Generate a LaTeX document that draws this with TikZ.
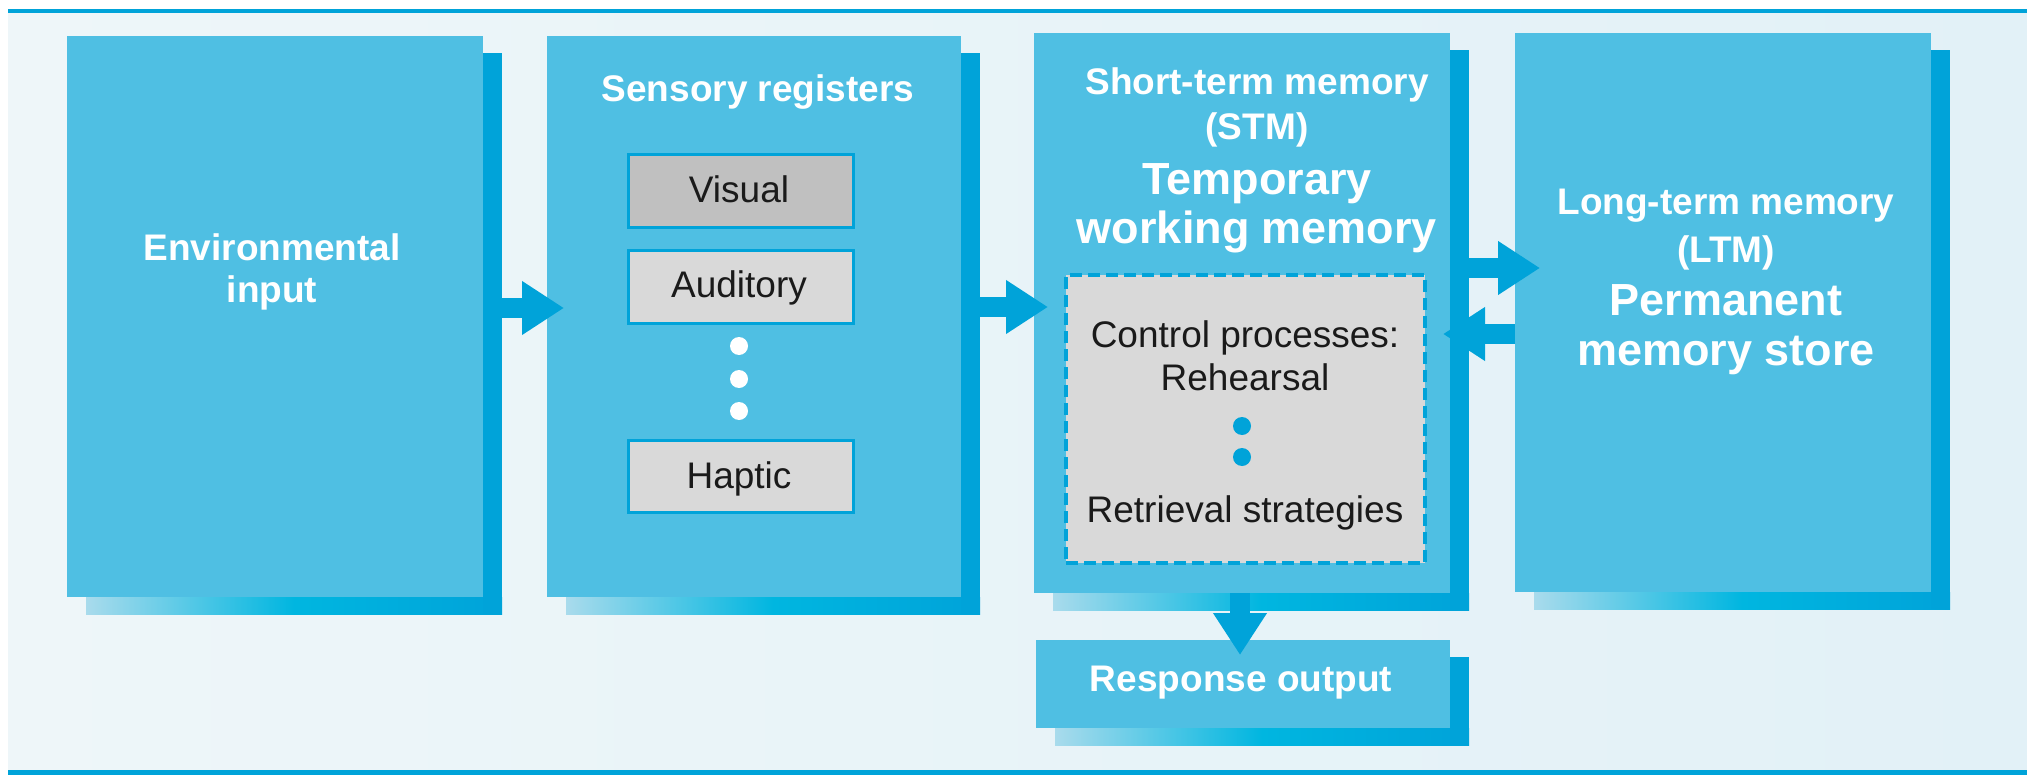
\documentclass[tikz,border=0pt]{standalone}
\usepackage{fontspec}
\setmainfont{Liberation Sans}
\usetikzlibrary{arrows.meta,fit}
\definecolor{boxfill}{HTML}{4FBFE3}
\definecolor{shdark}{HTML}{00A3D9}
\definecolor{shmid}{HTML}{00B6E0}
\definecolor{shlight}{HTML}{A9DBEC}
\definecolor{bglight}{HTML}{EEF6F9}
\definecolor{bgdark}{HTML}{E2F1F7}
\definecolor{graydark}{HTML}{C0C0C0}
\definecolor{graylight}{HTML}{D9D9D9}
\definecolor{txtdark}{HTML}{1A1A1A}
\newcommand\shbox[5]{%
  \shade[left color=shlight, right color=shdark, middle color=shmid] (#2+19,#5) rectangle (#4+19,#5+17);
  \fill[shdark] (#4,#3+17) rectangle (#4+19,#5+17);
  \node[bluebox, fit={(#2,#3) (#4,#5)}] (#1) {};
}
\begin{document}
\begin{tikzpicture}[
 x=0.5pt, y=-0.5pt,
 bluebox/.style={fill=boxfill, inner sep=0pt, outer sep=0pt},
 regbox/.style={draw=shdark, line width=1.5pt, inner sep=0pt, outer sep=0pt},
 dashbox/.style={draw=shdark, fill=graylight, line width=2pt, dash pattern=on 6pt off 3pt, inner sep=0pt, outer sep=0pt},
 ttl/.style={text=white, font=\fontsize{18.5}{22}\selectfont\bfseries, anchor=base, inner sep=0pt},
 bigttl/.style={text=white, font=\fontsize{22.5}{27}\selectfont\bfseries, anchor=base, inner sep=0pt},
 regtxt/.style={text=txtdark, font=\fontsize{18.5}{22}\selectfont, anchor=base, inner sep=0pt},
 bigarrow/.style={draw=shdark, line width=10pt, -{Triangle[width=25.5pt,length=21pt]}},
 bdot/.style={circle, inner sep=0pt, minimum size=9pt},
]
\useasboundingbox (0,0) rectangle (2027,775);
% background and rules
\shade[left color=bglight, right color=bgdark] (8,14) rectangle (2027,770);
\fill[shdark] (8,9) rectangle (2027,13);
\fill[shdark] (8,770) rectangle (2027,775);
% boxes
\shbox{env}{67}{36}{483}{597}
\shbox{sens}{547}{36}{961}{597}
\shbox{stm}{1034}{33}{1450}{593}
\shbox{ltm}{1515}{33}{1931}{592}
\shbox{resp}{1036}{640}{1450}{728}
% sensory sub-boxes
\node[regbox, fill=graydark, fit={(628,155) (853,228)}] (vis) {};
\node[regbox, fill=graylight, fit={(628,250) (853,323)}] (aud) {};
\node[regbox, fill=graylight, fit={(628,440) (853,512)}] (hap) {};
\node[regtxt] (vist) at (739,203) {Visual};
\node[regtxt] (audt) at (739,297) {Auditory};
\node[regtxt] (hapt) at (739,488) {Haptic};
\node[bdot, fill=white] (sd1) at (739,346) {};
\node[bdot, fill=white] (sd2) at (739,379) {};
\node[bdot, fill=white] (sd3) at (739,411) {};
% control processes
\node[dashbox, fit={(1066,275) (1425,563)}] (ctrl) {};
\node[regtxt] (ct1) at (1245,347) {Control processes:};
\node[regtxt] (ct2) at (1245,390) {Rehearsal};
\node[regtxt] (ct3) at (1245,522) {Retrieval strategies};
\node[bdot, fill=shdark] (cd1) at (1242,426) {};
\node[bdot, fill=shdark] (cd2) at (1242,457) {};
% titles
\node[ttl] (envt1) at (272,260) {Environmental};
\node[ttl] (envt2) at (272,302) {input};
\node[ttl] (senst) at (758,102) {Sensory registers};
\node[ttl] (stmt1) at (1257,95) {Short-term memory};
\node[ttl] (stmt2) at (1257,140) {(STM)};
\node[bigttl] (stmt3) at (1257,195) {Temporary};
\node[bigttl] (stmt4) at (1257,243) {working memory};
\node[ttl] (ltmt1) at (1726,215) {Long-term memory};
\node[ttl] (ltmt2) at (1726,263) {(LTM)};
\node[bigttl] (ltmt3) at (1726,315) {Permanent};
\node[bigttl] (ltmt4) at (1726,365) {memory store};
\node[ttl] (respt) at (1241,691) {Response output};
% arrows
\draw[bigarrow] ([xshift=9.5pt]env.east |- 0,308) -- ([xshift=8.5pt]sens.west |- 0,308);
\draw[bigarrow] ([xshift=9.5pt]sens.east |- 0,307) -- ([xshift=7pt]stm.west |- 0,307);
\draw[bigarrow] ([xshift=9.5pt]stm.east |- 0,268) -- ([xshift=12.5pt]ltm.west |- 0,268);
\draw[bigarrow] (ltm.west |- 0,334) -- ([xshift=-3.5pt]stm.east |- 0,334);
\draw[bigarrow] (stm.south -| 1240,0) -- ([yshift=-7.5pt]resp.north -| 1240,0);
\end{tikzpicture}
\end{document}
